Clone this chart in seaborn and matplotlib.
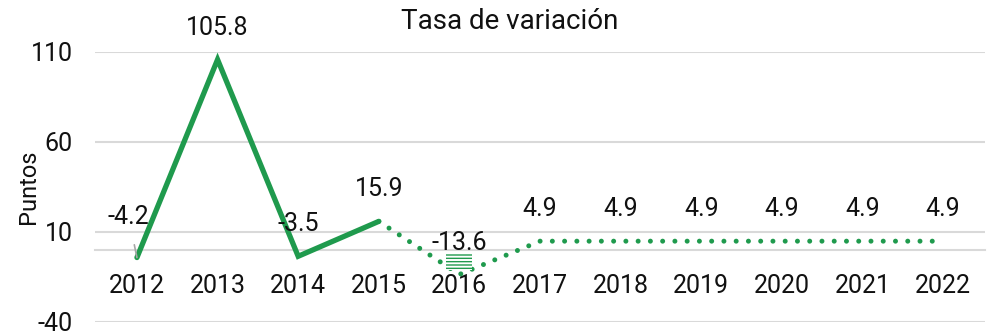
import matplotlib
matplotlib.use("Agg")
import matplotlib.pyplot as plt
from matplotlib.patches import Rectangle
import seaborn as sns
import pandas as pd

years = ["2012", "2013", "2014", "2015", "2016", "2017", "2018", "2019", "2020", "2021", "2022"]
values = [-4.2, 105.8, -3.5, 15.9, -13.6, 4.9, 4.9, 4.9, 4.9, 4.9, 4.9]
observed_count = 4          # 2012-2015 drawn solid, the rest dotted
y_ticks = [-40, 10, 60, 110]

GREEN = "#1f9a4d"
GRID = "#d9d9d9"
INK = "#111111"

sns.set_theme(style="white")
plt.rcParams["font.family"] = ["Roboto", "DejaVu Sans"]

df = pd.DataFrame({"pos": range(len(years)), "year": years, "value": values})
solid = df.iloc[:observed_count]
dotted = df.iloc[observed_count - 1:]

fig = plt.figure(figsize=(9.96, 3.36), dpi=100)
ax = fig.add_axes([0.0954, 0.0417, 0.8936, 0.8036])

for t in y_ticks:
    ax.axhline(t, color=GRID, lw=1.5, zorder=0)

sns.lineplot(data=solid, x="pos", y="value", ax=ax, color=GREEN, lw=3.8,
             solid_capstyle="round", solid_joinstyle="miter", zorder=3)
sns.lineplot(data=dotted, x="pos", y="value", ax=ax, color=GREEN, lw=3.6, zorder=3)
proj = ax.lines[-1]
proj.set_linestyle((0, (0.001, 2.45)))
proj.set_dash_capstyle("round")

ax.set_ylim(-40, 110)
ax.set_xlim(-0.52, len(years) - 0.48)
ax.set_yticks(y_ticks)
ax.set_yticklabels([str(t) for t in y_ticks])
ax.set_xticks(range(len(years)))
ax.set_xticklabels(years)

for s in ["top", "right", "left"]:
    ax.spines[s].set_visible(False)
ax.spines["bottom"].set_position(("data", 0))
ax.spines["bottom"].set_color(GRID)
ax.spines["bottom"].set_linewidth(1.5)
ax.spines["bottom"].set_zorder(0)

ax.tick_params(axis="x", length=0, pad=17, labelsize=18, colors=INK)
ax.tick_params(axis="y", length=0, pad=16, labelsize=18, colors=INK)
ax.set_xlabel("")
ax.set_ylabel("Puntos", fontsize=17, color=INK)
ax.yaxis.set_label_coords(-0.062, 0.5)

fig.text(0.512, 0.935, "Tasa de variación", fontsize=20, color=INK,
         ha="center", va="center")

# value labels above each point
for i, v in enumerate(values):
    txt = f"{v:.1f}"
    if i == 0:
        ax.annotate(txt, xy=(i, v), xytext=(-6, 29), textcoords="offset points",
                    ha="center", va="center", fontsize=18, color=INK,
                    arrowprops=dict(arrowstyle="-", color="#a6a6a6", lw=1.2,
                                    shrinkA=9, shrinkB=0))
    else:
        ax.annotate(txt, xy=(i, v), xytext=(0, 23), textcoords="offset points",
                    ha="center", va="center", fontsize=18, color=INK)

# hatched marker just above the 2016 point
i16 = years.index("2016")
px, py = ax.transData.transform((i16, values[i16]))
bx0, by0 = ax.transData.inverted().transform((px - 13, py + 4))
bx1, by1 = ax.transData.inverted().transform((px + 13, py + 20))
ax.add_patch(Rectangle((bx0, by0), bx1 - bx0, by1 - by0, facecolor="white",
                       edgecolor=GREEN, hatch="-----", lw=0, zorder=4))

fig.savefig("out.png", dpi=100)
